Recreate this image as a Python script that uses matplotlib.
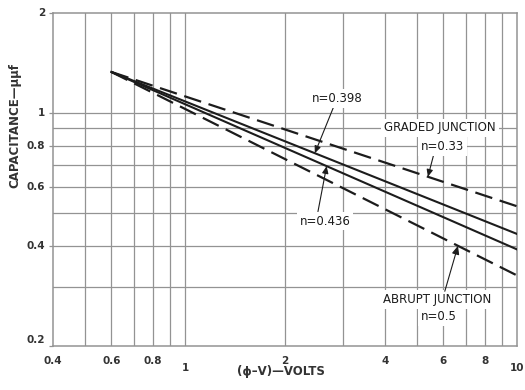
import numpy as np
import matplotlib
matplotlib.use("Agg")
import matplotlib.pyplot as plt
from matplotlib import transforms

# Junction capacitance C = C0 * ((phi - V) / V0) ** (-n)
exponents = [0.33, 0.398, 0.436, 0.5]
line_styles = ["dashed", "solid", "solid", "dashed"]
v_start = 0.6          # volts, where all curves begin
c_start = 1.33         # micro-micro-farads at v_start
v_end = 10.0

x_grid = [0.5, 0.6, 0.7, 0.8, 0.9, 1, 2, 3, 4, 5, 6, 7, 8, 9]
y_grid = [0.3, 0.4, 0.5, 0.6, 0.7, 0.8, 0.9, 1.0]
x_tick_values = [0.4, 0.6, 0.8, 1, 2, 4, 6, 8, 10]
x_tick_labels = ["0.4", "0.6", "0.8", "1", "2", "4", "6", "8", "10"]
y_tick_values = [2, 1, 0.8, 0.6, 0.4, 0.2]
y_tick_labels = ["2", "1", "0.8", "0.6", "0.4", "0.2"]

INK = "#1c1c1c"
GRID = "#939393"

plt.rcParams["font.family"] = ["DejaVu Sans"]

fig = plt.figure(figsize=(5.25, 3.9), dpi=100)
ax = fig.add_axes([53 / 525, 44 / 390, 464 / 525, 333 / 390])
ax.set_xscale("log")
ax.set_yscale("log")
ax.set_xlim(0.4, 10)
ax.set_ylim(0.2, 2)

# grid
for xv in x_grid:
    ax.axvline(xv, color=GRID, lw=0.9, zorder=1)
for yv in y_grid:
    ax.axhline(yv, color=GRID, lw=0.9, zorder=1)
for s in ax.spines.values():
    s.set_color(GRID)
    s.set_linewidth(1.1)

ax.xaxis.set_major_locator(matplotlib.ticker.NullLocator())
ax.xaxis.set_minor_locator(matplotlib.ticker.NullLocator())
ax.set_yticks(y_tick_values)
ax.yaxis.set_minor_locator(matplotlib.ticker.NullLocator())
ax.set_yticklabels([])
ax.tick_params(axis="y", length=3, color=GRID, width=0.9)


def cap(v, n):
    return c_start * (np.asarray(v) / v_start) ** (-n)


v = np.array([v_start, v_end])
for n, ls in zip(exponents, line_styles):
    if ls == "dashed":
        ax.plot(v, cap(v, n), color=INK, lw=1.6, dashes=(8, 3.5), zorder=3,
                dash_capstyle="butt")
    else:
        ax.plot(v, cap(v, n), color=INK, lw=1.5, zorder=3)

# tick labels
tx = transforms.blended_transform_factory(ax.transData, ax.transAxes)
for xv, lab in zip(x_tick_values, x_tick_labels):
    low = lab in ("1", "10")
    ax.text(xv, -0.03 if not low else -0.05, lab, transform=tx, ha="center",
            va="top", fontsize=7.5, fontweight="bold", color="#333333")
ty = transforms.blended_transform_factory(ax.transAxes, ax.transData)
for yv, lab in zip(y_tick_values, y_tick_labels):
    yy = yv * 1.04 if yv == 0.2 else yv
    ax.text(-0.017, yy, lab, transform=ty, ha="right", va="center",
            fontsize=7.5, fontweight="bold", color="#333333")

fig.text(281 / 525, 1 - 372 / 390, "(\u03d5\u2013V)\u2014VOLTS", ha="center",
         va="center", fontsize=8.5, fontweight="bold", color="#333333")
fig.text(15 / 525, 1 - 125 / 390, "CAPACITANCE\u2014\u03bc\u03bcf", ha="center",
         va="center", rotation=90, fontsize=8.5, fontweight="bold", color="#333333")

box = dict(boxstyle="square,pad=0.25", fc="white", ec="none")
arrow = dict(arrowstyle="-|>,head_length=0.5,head_width=0.22", color=INK,
             lw=0.8, shrinkA=0, shrinkB=0)

# n = 0.398
xa = 2.46
ax.annotate("n=0.398", xy=(xa, cap(xa, 0.398)), xytext=(2.87, 1.11),
            ha="center", va="center", fontsize=8.5, color=INK, bbox=box,
            arrowprops=dict(arrow, relpos=(0.45, 0.0)), zorder=5)
# n = 0.436
xa = 2.67
ax.annotate("n=0.436", xy=(xa, cap(xa, 0.436)), xytext=(2.64, 0.4746),
            ha="center", va="center", fontsize=8.5, color=INK, bbox=box,
            arrowprops=dict(arrow, relpos=(0.35, 1.0)), zorder=5)
# graded junction
ax.text(5.86, 0.903, "GRADED JUNCTION", ha="center", va="center",
        fontsize=8.5, color=INK, bbox=box, zorder=5)
xa = 5.39
ax.annotate("n=0.33", xy=(xa, cap(xa, 0.33)), xytext=(5.98, 0.797),
            ha="center", va="center", fontsize=8.5, color=INK, bbox=box,
            arrowprops=dict(arrow, relpos=(0.3, 0.0)), zorder=5)
# abrupt junction
ax.text(5.74, 0.275, "ABRUPT JUNCTION", ha="center", va="center",
        fontsize=8.5, color=INK, bbox=box, zorder=5)
ax.text(5.8, 0.246, "n=0.5", ha="center", va="center",
        fontsize=8.5, color=INK, bbox=box, zorder=5)
xa = 6.64
ax.annotate("", xy=(xa, cap(xa, 0.5)), xytext=(6.06, 0.292),
            arrowprops=arrow, zorder=6)

fig.savefig("out.png", dpi=100, facecolor="white")
